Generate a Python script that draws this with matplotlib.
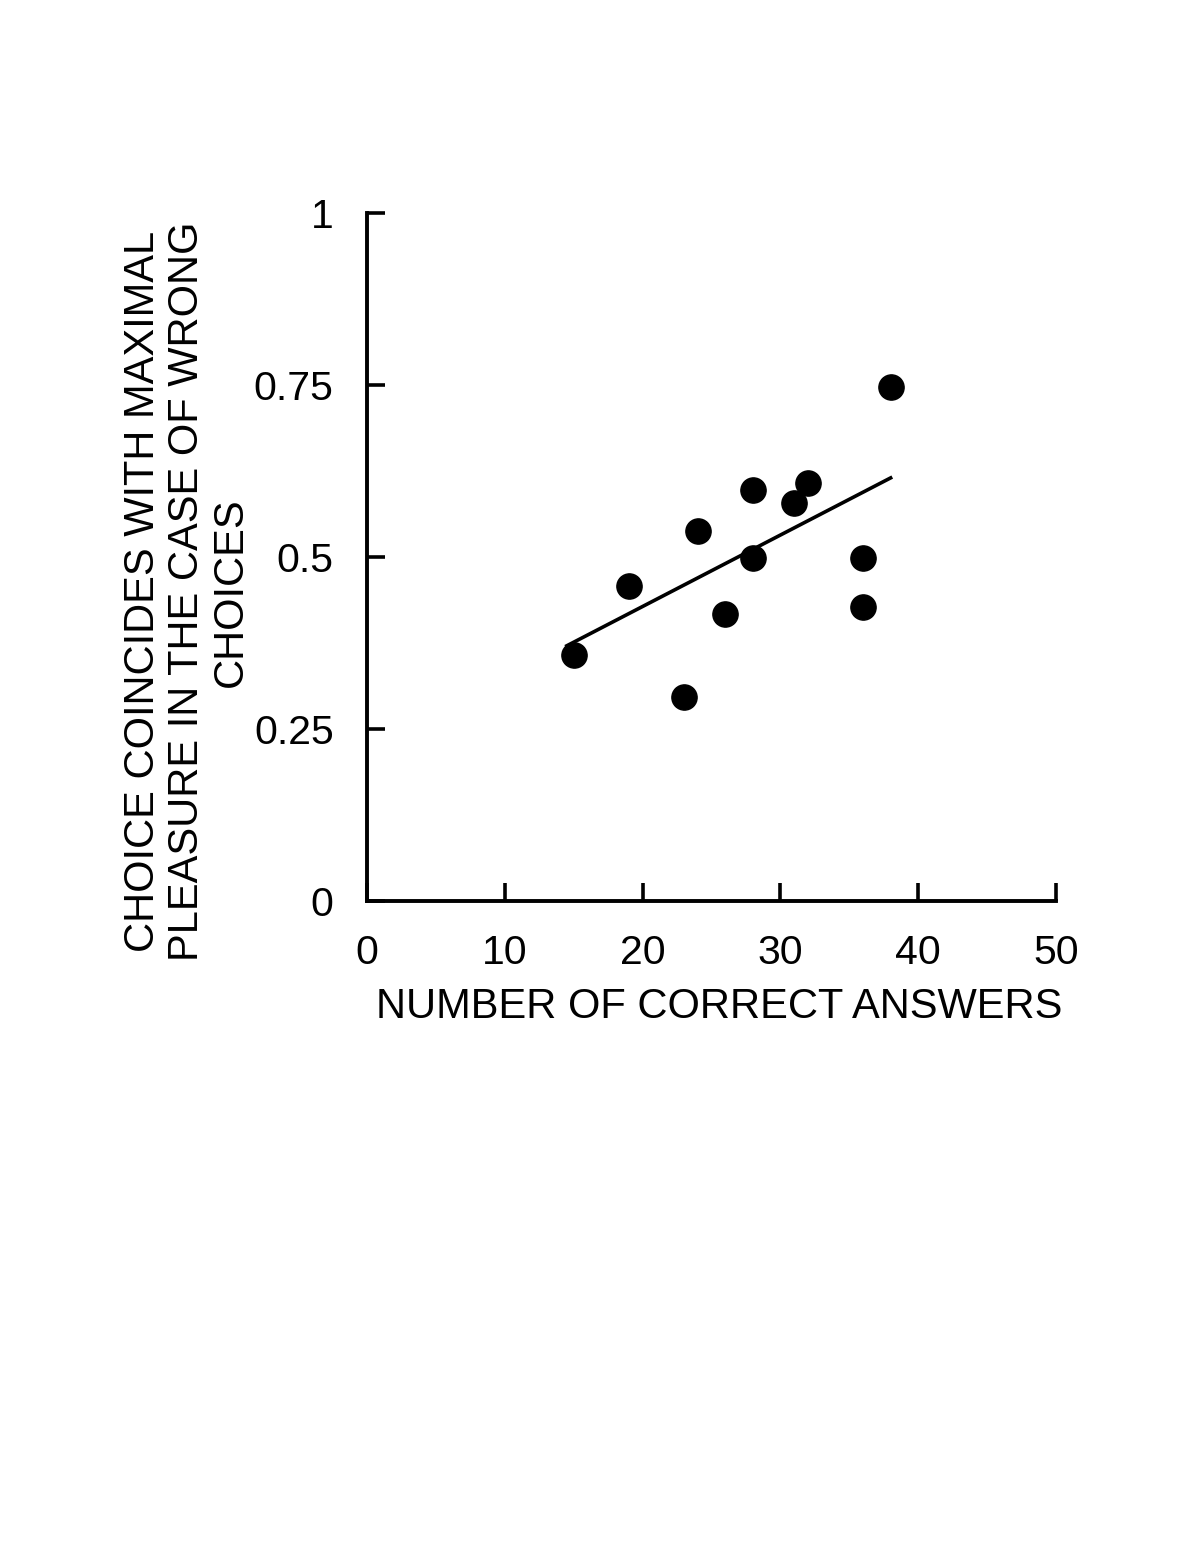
import matplotlib
matplotlib.use("Agg")
import matplotlib.pyplot as plt

# data
correct_answers = [15, 19, 23, 24, 26, 28, 28, 31, 32, 36, 36, 38]
coincide_rate = [0.357, 0.458, 0.297, 0.538, 0.417, 0.597, 0.498, 0.578, 0.607, 0.498, 0.427, 0.747]

# regression line end points
fit_x = [14.5, 38.0]
fit_y = [0.371, 0.615]

x_ticks = [0, 10, 20, 30, 40, 50]
y_ticks = [0, 0.25, 0.5, 0.75, 1]
y_tick_labels = ["0", "0.25", "0.5", "0.75", "1"]

plt.rcParams["font.family"] = ["Liberation Sans", "DejaVu Sans"]

fig = plt.figure(figsize=(11.97, 15.49), dpi=100)
ax = fig.add_axes([0.3066, 0.4183, 0.5756, 0.4442])

ax.plot(fit_x, fit_y, color="black", linewidth=2.6, zorder=2)
ax.scatter(correct_answers, coincide_rate, s=330, color="black", zorder=3)

ax.set_xlim(0, 50)
ax.set_ylim(0, 1)
ax.set_xticks(x_ticks)
ax.set_yticks(y_ticks)
ax.set_yticklabels(y_tick_labels)

for side in ["top", "right"]:
    ax.spines[side].set_visible(False)
for side in ["left", "bottom"]:
    ax.spines[side].set_linewidth(2.8)

ax.tick_params(direction="in", length=13, width=2.6, labelsize=29.5, pad=24)

ax.set_xlabel("NUMBER OF CORRECT ANSWERS", fontsize=30)
ax.xaxis.set_label_coords(0.511, -0.125)
fig.text(0.156, 0.618, "CHOICE COINCIDES WITH MAXIMAL\nPLEASURE IN THE CASE OF WRONG\nCHOICES",
         rotation=90, ha="center", va="center", fontsize=30, multialignment="center",
         linespacing=1.12)

fig.savefig("out.png", dpi=100)
